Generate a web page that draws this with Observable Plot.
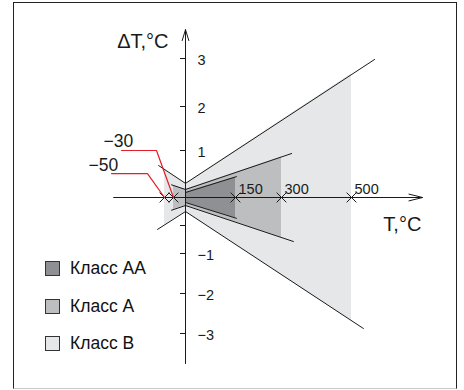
<!DOCTYPE html>
<html><head><meta charset="utf-8">
<script src="https://cdn.jsdelivr.net/npm/d3@7"></script>
<script src="https://cdn.jsdelivr.net/npm/@observablehq/plot@0.6"></script>
<style>
body{margin:0;background:#fff;font-family:"Liberation Sans",Arial,sans-serif;}
#wrap{position:relative;width:464px;height:390px;overflow:hidden;}
#frame{position:absolute;left:13px;top:2px;width:444px;height:387px;box-sizing:border-box;border:1.5px solid #222;border-bottom:1px solid #c8c8c8;pointer-events:none;}
#legend{position:absolute;left:45px;top:261px;}
.row{display:flex;align-items:center;height:15px;margin-bottom:22.5px;font-size:17.5px;color:#111;}
.sw{width:15px;height:15px;box-sizing:border-box;border:1px solid #333;margin-right:10px;}
</style></head>
<body><div id="wrap"><div id="chart"></div><div id="frame"></div><div id="legend"></div></div>
<script>
// ---- data ----
const classNames = ["Класс AA", "Класс A", "Класс B"];
const classColors = ["#8f9093", "#bcbec0", "#e6e7e8"];

// tolerance bands (T in °C, ΔT in °C)
const bT  = [-50, 0, 500];
const bHi = [0.60, 0.30, 2.68];
const bLo = [-0.49, -0.25, -2.69];

const aT  = [-30, 0, 300];
const aHi = [0.255, 0.17, 0.864];
const aLo = [-0.214, -0.143, -0.714];

const aaT  = [0, 150];
const aaHi = [0.106, 0.436];
const aaLo = [-0.089, -0.366];

// boundary lines
const bUpT = [-63, 0, 566],   bUpV = [0.68, 0.30, 2.98];
const bLoT = [-65.5, 0, 534], bLoV = [-0.57, -0.25, -2.875];
const aUpT = [-34.4, 0, 329], aUpV = [0.27, 0.17, 0.936];
const aLoT = [-34.4, 0, 334], aLoV = [-0.227, -0.143, -0.786];
const aaUpT = [0, 153], aaUpV = [0.106, 0.443];
const aaLoT = [0, 153], aaLoV = [-0.089, -0.371];

// axes
const xMarks = [-50, -30, 150, 300, 500];
const xLabelVals = [150, 300, 500];
const yTicks = [3, 2, 1, -0.5, -1, -2, -3];
const yTickLabels = ["3", "2", "1", "", "−1", "−2", "−3"];
const xAxisT = [-163, 703];
const yAxisV = [-3.75, 3.6];

// leaders for −30 and −50
const leader30T = [-145.6, -67.8, -30], leader30V = [1.0, 1.0, 0];
const leader50T = [-167.8, -87.8, -50], leader50V = [0.51, 0.51, 0];
const leaderLabels = ["−30", "−50"];
const leaderLabelT = [-185.6, -218.9];
const leaderLabelV = [1.085, 0.574];

// ---- build tables ----
const band = (T, lo, hi) => T.map((t, i) => ({t, lo: lo[i], hi: hi[i]}));
const pts = (T, V) => T.map((t, i) => ({t, v: V[i]}));

const ink = "#1a1a1a";
const chart = Plot.plot({
  width: 464, height: 390,
  marginTop: 0, marginRight: 0, marginBottom: 0, marginLeft: 0,
  style: {fontFamily: '"Liberation Sans", Arial, sans-serif', background: "transparent"},
  x: {type: "linear", domain: [-50, -30, 0, 150, 300, 500], range: [164, 173, 185, 235, 281, 351], axis: null},
  y: {type: "linear", domain: [-3, -2, -1, 0, 1, 2, 3], range: [333, 293, 253, 197, 150, 106, 58], axis: null},
  marks: [
    Plot.areaY(band(bT, bLo, bHi), {x: "t", y1: "lo", y2: "hi", fill: classColors[2]}),
    Plot.areaY(band(aT, aLo, aHi), {x: "t", y1: "lo", y2: "hi", fill: classColors[1]}),
    Plot.areaY(band(aaT, aaLo, aaHi), {x: "t", y1: "lo", y2: "hi", fill: classColors[0]}),
    ...[[bUpT, bUpV], [bLoT, bLoV], [aUpT, aUpV], [aLoT, aLoV], [aaUpT, aaUpV], [aaLoT, aaLoV]].map(([T, V]) =>
      Plot.line(pts(T, V), {x: "t", y: "v", stroke: ink, strokeWidth: 1})),
    Plot.arrow([{x1: xAxisT[0], x2: xAxisT[1]}], {x1: "x1", x2: "x2", y1: 0, y2: 0, stroke: ink, strokeWidth: 1, headLength: 21, headAngle: 28}),
    Plot.arrow([{y1: yAxisV[0], y2: yAxisV[1]}], {x1: 0, x2: 0, y1: "y1", y2: "y2", stroke: ink, strokeWidth: 1, headLength: 17, headAngle: 34}),
    Plot.ruleY(yTicks, {y: d => d, x1: 0, x2: 0, insetLeft: -5, insetRight: -1, stroke: ink}),
    Plot.text(yTicks, {x: 0, y: d => d, text: (d, i) => yTickLabels[i], dx: 12, dy: 2, textAnchor: "start", fontSize: 14.5, fill: ink}),
    Plot.dot(xMarks, {x: d => d, y: 0, symbol: "times", r: 4.5, stroke: ink, strokeWidth: 1}),
    Plot.text(xLabelVals, {x: d => d, y: 0, text: d => String(d), dx: 3, dy: -4, textAnchor: "start", lineAnchor: "bottom", fontSize: 14.5, fill: ink}),
    Plot.line(pts(leader30T, leader30V), {x: "t", y: "v", stroke: "#e31e24", strokeWidth: 1.2}),
    Plot.line(pts(leader50T, leader50V), {x: "t", y: "v", stroke: "#e31e24", strokeWidth: 1.2}),
    Plot.text(leaderLabels, {x: (d, i) => leaderLabelT[i], y: (d, i) => leaderLabelV[i], text: d => d, textAnchor: "start", lineAnchor: "bottom", fontSize: 17.5, fill: ink}),
    Plot.text(["ΔT,°C"], {x: 0, y: 3.21, text: d => d, dx: -17, textAnchor: "end", lineAnchor: "bottom", fontSize: 20, fill: ink}),
    Plot.text(["T,°C"], {x: 591, y: -0.607, text: d => d, textAnchor: "start", lineAnchor: "bottom", fontSize: 20, fill: ink})
  ]
});
document.getElementById("chart").appendChild(chart);

const legend = document.getElementById("legend");
classNames.forEach((name, i) => {
  const row = document.createElement("div");
  row.className = "row";
  const sw = document.createElement("div");
  sw.className = "sw";
  sw.style.background = classColors[i];
  const tx = document.createElement("span");
  tx.textContent = name;
  row.appendChild(sw); row.appendChild(tx);
  legend.appendChild(row);
});
</script></body></html>
